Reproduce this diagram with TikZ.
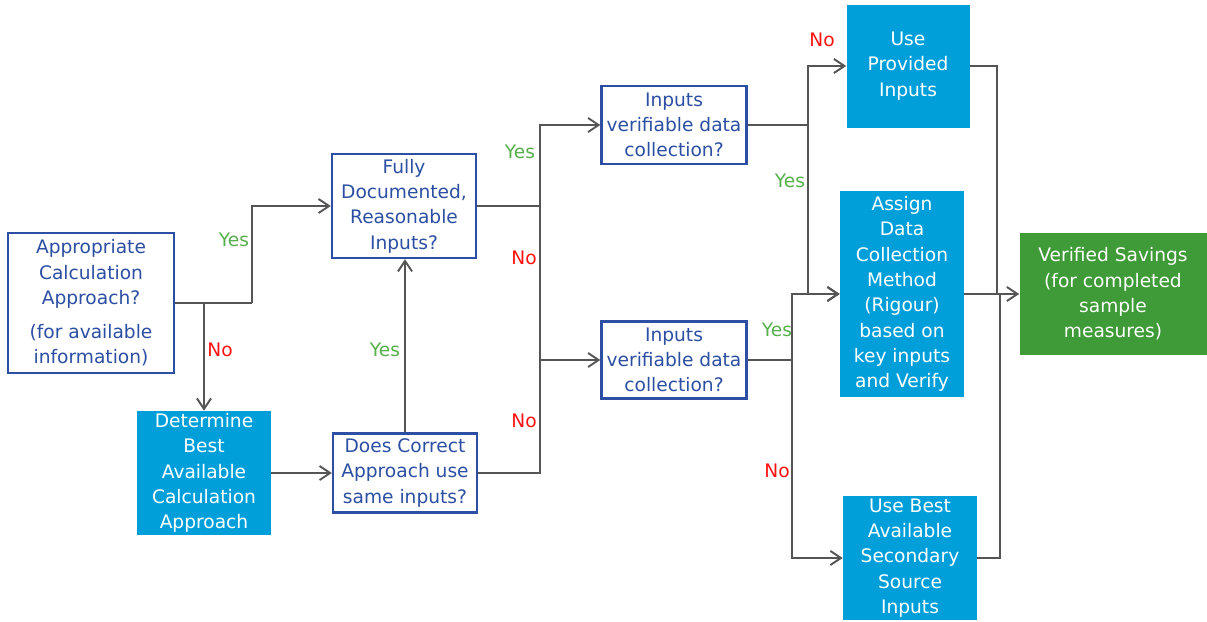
\documentclass[tikz,border=0pt]{standalone}
\usepackage{fontspec}
\setmainfont{DejaVu Sans}
\usetikzlibrary{arrows.meta}
\definecolor{qblue}{HTML}{2C4FA3}
\definecolor{qcyan}{HTML}{009FDA}
\definecolor{qgreen}{HTML}{3F9B37}
\definecolor{qyes}{HTML}{55B04A}
\definecolor{qno}{HTML}{FF1010}
\definecolor{qline}{HTML}{555555}

\begin{document}
\begin{tikzpicture}[x=0.02cm, y=-0.02cm,
  every node/.style={font=\fontsize{10.6}{14.4}\selectfont, align=center, inner sep=0pt},
  question/.style={draw=qblue, line width=1.3pt, text=qblue, fill=white},
  action/.style={fill=qcyan, text=white},
  result/.style={fill=qgreen, text=white},
  line/.style={draw=qline, line width=1.1pt},
  arr/.style={line, -{Straight Barb[length=6pt, width=8pt]}},
  yes/.style={text=qyes},
  no/.style={text=qno},
]
\useasboundingbox (0,0) rectangle (1207,622);

% questions
\node[question, minimum width=166*0.02cm, minimum height=140*0.02cm] (appr) at (91,303)
  {Appropriate\\Calculation\\Approach?\\[5pt](for available\\information)};
\node[question, minimum width=144*0.02cm, minimum height=104*0.02cm] (fully) at (404,206)
  {Fully\\Documented,\\Reasonable\\Inputs?};
\node[question, minimum width=144*0.02cm, minimum height=79*0.02cm] (same) at (405,473)
  {Does Correct\\Approach use\\same inputs?};
\node[question, minimum width=145*0.02cm, minimum height=78*0.02cm] (verA) at (674,125)
  {Inputs\\verifiable data\\collection?};
\node[question, minimum width=145*0.02cm, minimum height=77*0.02cm] (verB) at (674,360)
  {Inputs\\verifiable data\\collection?};

% actions
\node[action, minimum width=134*0.02cm, minimum height=124*0.02cm] (best) at (204,473)
  {Determine\\Best\\Available\\Calculation\\Approach};
\node[action, minimum width=123*0.02cm, minimum height=123*0.02cm] (used) at (908,66)
  {Use\\Provided\\Inputs};
\node[action, minimum width=124*0.02cm, minimum height=206*0.02cm] (assign) at (902,294)
  {Assign\\Data\\Collection\\Method\\(Rigour)\\based on\\key inputs\\and Verify};
\node[action, minimum width=134*0.02cm, minimum height=124*0.02cm] (second) at (910,558)
  {Use Best\\Available\\Secondary\\Source\\Inputs};
\node[result, minimum width=187*0.02cm, minimum height=122*0.02cm] (saved) at (1113,294)
  {Verified Savings\\(for completed\\sample\\measures)};

% bus lines
\coordinate (jA) at (204,303);
\coordinate (kA) at (252,303);
\coordinate (m1) at (540,0);
\coordinate (m2) at (808,0);
\coordinate (m3) at (792,0);
\coordinate (m4) at (997,0);
\coordinate (m5) at (1000,0);

\draw[line] (appr.east) -- (kA);
\draw[arr] (kA) |- (fully.west);
\draw[arr] (jA) -- (jA |- best.north);
\draw[arr] (best.east) -- (same.west);
\draw[arr] (same.north) -- (same.north |- fully.south);

\draw[arr] (fully.east) -| (m1 |- verA) -- (verA);
\draw[arr] (fully.east) -| (m1 |- verB) -- (verB);
\draw[line] (same.east) -| (m1 |- verB);

\draw[arr] (verA.east) -| (m2 |- used) -- (used);
\draw[arr] (verA.east) -| (m2 |- assign) -- (assign);
\draw[arr] (verB.east) -| (m3 |- assign) -- (assign);
\draw[arr] (verB.east) -| (m3 |- second) -- (second);

\draw[line] (used.east) -| (m4 |- saved);
\draw[line] (second.east) -| (m5 |- saved);
\draw[arr] (assign.east) -- (saved.west);

% labels
\node[yes] (y1) at (234,240) {Yes};
\node[no]  (n1) at (220,350) {No};
\node[yes] (y2) at (385,350) {Yes};
\node[yes] (y3) at (520,152) {Yes};
\node[no]  (n2) at (524,258) {No};
\node[no]  (n3) at (524,421) {No};
\node[no]  (n4) at (822,40) {No};
\node[yes] (y4) at (790,181) {Yes};
\node[yes] (y5) at (777,330) {Yes};
\node[no]  (n5) at (777,471) {No};

\end{tikzpicture}
\end{document}
